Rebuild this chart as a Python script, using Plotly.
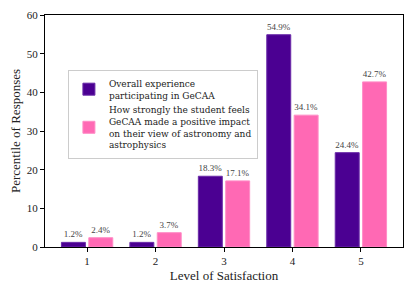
import plotly.graph_objects as go

levels = [1, 2, 3, 4, 5]
overall = [1.2, 1.2, 18.3, 54.9, 24.4]
impact = [2.4, 3.7, 17.1, 34.1, 42.7]
name_overall = "Overall experience<br>participating in GeCAA"
name_impact = "How strongly the student feels<br>GeCAA made a positive impact<br>on their view of astronomy and<br>astrophysics"

FONT = "Liberation Serif"

fig = go.Figure()
fig.add_trace(go.Bar(
    x=[l - 0.2 for l in levels], y=overall, width=0.35, name=name_overall,
    marker=dict(color="#4B0092", line=dict(color="#6a2aa8", width=1)),
    text=[f"{v:.1f}%" for v in overall], textposition="outside",
    textfont=dict(family=FONT, size=9, color="#444"), cliponaxis=False,
))
fig.add_trace(go.Bar(
    x=[l + 0.2 for l in levels], y=impact, width=0.35, name=name_impact,
    marker=dict(color="#FF69B4", line=dict(color="#ff8cc6", width=1)),
    text=[f"{v:.1f}%" for v in impact], textposition="outside",
    textfont=dict(family=FONT, size=9, color="#444"), cliponaxis=False,
))

axis_common = dict(showline=True, linecolor="black", linewidth=1.3, mirror=True,
                   ticks="outside", ticklen=4, tickcolor="black", tickwidth=1,
                   showgrid=False, zeroline=False, automargin=False,
                   tickfont=dict(family=FONT, size=11, color="#222"))
fig.update_xaxes(range=[0.385, 5.615], tickvals=levels, ticktext=[str(l) for l in levels],
                 title=dict(text="Level of Satisfaction", font=dict(family=FONT, size=13, color="#222"), standoff=4),
                 **axis_common)
fig.update_yaxes(range=[0, 60], tickvals=[0, 10, 20, 30, 40, 50, 60],
                 title=dict(text="Percentile of Responses", font=dict(family=FONT, size=13, color="#222"), standoff=12),
                 **axis_common)

fig.update_layout(
    width=407, height=284, margin=dict(l=37, r=12, t=7, b=45),
    paper_bgcolor="white", plot_bgcolor="white", barmode="overlay",
    font=dict(family=FONT, color="#222"),
    legend=dict(x=0.064, y=0.763, xanchor="left", yanchor="top",
                bgcolor="white", bordercolor="#cccccc", borderwidth=1,
                font=dict(family="DejaVu Serif", size=9, color="#222"),
                tracegroupgap=0, itemwidth=30),
    showlegend=True,
)
fig.write_html("out.html")
